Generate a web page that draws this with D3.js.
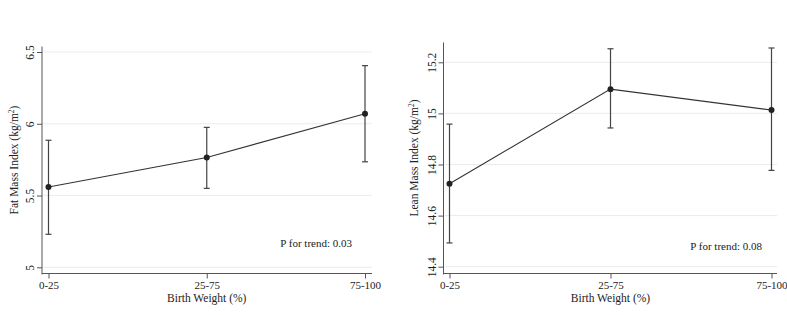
<!DOCTYPE html>
<html>
<head>
<meta charset="utf-8">
<script src="https://cdn.jsdelivr.net/npm/d3@7"></script>
<style>
  body { margin: 0; background: #fff; }
  svg text { font-family: "Liberation Serif", "Times New Roman", serif; fill: #222; }
</style>
</head>
<body>
<div id="chart"></div>
<script>
// birth weight groups
const categories = ['0-25', '25-75', '75-100'];

// fat mass index (kg/m2): mean and 95% CI
const fatMean = [5.56, 5.765, 6.07];
const fatLo = [5.23, 5.55, 5.735];
const fatHi = [5.885, 5.975, 6.405];
const fatTicks = [5, 5.5, 6, 6.5];

// lean mass index (kg/m2)
const leanMean = [14.725, 15.095, 15.013];
const leanLo = [14.493, 14.943, 14.777];
const leanHi = [14.958, 15.253, 15.256];
const leanTicks = [14.4, 14.6, 14.8, 15, 15.2];

const pTrend = ['P for trend: 0.03', 'P for trend: 0.08'];

const W = 787, H = 315;
const svg = d3.select('#chart').append('svg')
  .attr('width', W).attr('height', H);

const panel = (opt) => {
  const g = svg.append('g');

  let x = d3.scalePoint()
    .domain(categories)
    .range([opt.x0, opt.x1]);

  let y = d3.scaleLinear()
    .domain(opt.domain)
    .range(opt.yRange);

  // gridlines
  g.append('g')
    .selectAll('line')
    .data(opt.ticks)
    .join('line')
    .attr('x1', opt.axisX + 1)
    .attr('x2', opt.axisRight)
    .attr('y1', d => y(d))
    .attr('y2', d => y(d))
    .attr('stroke', '#ebebeb')
    .attr('stroke-width', 1);

  // y axis
  let yAxis = g.append('g')
    .attr('transform', `translate(${opt.axisX},0)`)
    .call(d3.axisLeft(y).tickValues(opt.ticks).tickSize(5).tickSizeOuter(0).tickFormat(d => d3.format('')(d)));
  yAxis.select('.domain').remove();
  yAxis.append('line')
    .attr('y1', opt.axisTop).attr('y2', opt.axisY + 1)
    .attr('stroke', '#555');
  yAxis.selectAll('.tick line').attr('stroke', '#555');
  yAxis.selectAll('.tick text')
    .attr('transform', 'rotate(-90)')
    .attr('x', 0).attr('y', -8)
    .attr('dy', 0)
    .attr('text-anchor', 'middle')
    .style('font-size', '11.5px')
    .style('font-family', '"Liberation Serif", serif')
    .attr('fill', '#222');

  // x axis
  let xAxis = g.append('g')
    .attr('transform', `translate(0,${opt.axisY})`)
    .call(d3.axisBottom(x).tickSize(5).tickSizeOuter(0));
  xAxis.select('.domain').remove();
  xAxis.append('line')
    .attr('x1', opt.axisX).attr('x2', opt.axisRight)
    .attr('stroke', '#555');
  xAxis.selectAll('.tick line').attr('stroke', '#555');
  xAxis.selectAll('.tick text')
    .attr('y', 8)
    .style('font-size', '11px')
    .style('font-family', '"Liberation Serif", serif')
    .attr('fill', '#222');

  // axis titles
  g.append('text')
    .attr('x', (opt.x0 + opt.x1) / 2)
    .attr('y', opt.axisY + 28)
    .attr('text-anchor', 'middle')
    .style('font-size', '11.5px')
    .text('Birth Weight (%)');

  let yt = g.append('text')
    .attr('transform', `translate(${opt.titleX},${(opt.axisTop + opt.axisY) / 2}) rotate(-90)`)
    .attr('text-anchor', 'middle')
    .style('font-size', '11.5px');
  yt.append('tspan').text(opt.title + ' (kg/m');
  yt.append('tspan').attr('dy', -4).style('font-size', '7.5px').text('2');
  yt.append('tspan').attr('dy', 4).text(')');

  // error bars
  let idx = categories.map((c, i) => i);
  g.append('g')
    .selectAll('g')
    .data(idx)
    .join('g')
    .each(function (i) {
      let s = d3.select(this);
      let cx = x(categories[i]);
      s.append('line')
        .attr('x1', cx).attr('x2', cx)
        .attr('y1', y(opt.lo[i])).attr('y2', y(opt.hi[i]))
        .attr('stroke', '#444').attr('stroke-width', 1.2);
      [opt.lo[i], opt.hi[i]].forEach(v => {
        s.append('line')
          .attr('x1', cx - 3).attr('x2', cx + 3)
          .attr('y1', y(v)).attr('y2', y(v))
          .attr('stroke', '#444').attr('stroke-width', 1.2);
      });
    });

  // mean line
  let line = d3.line()
    .x((d, i) => x(categories[i]))
    .y(d => y(d));

  g.append('path')
    .datum(opt.mean)
    .attr('fill', 'none')
    .attr('stroke', '#333')
    .attr('stroke-width', 1.1)
    .attr('d', line);

  g.append('g')
    .selectAll('circle')
    .data(opt.mean)
    .join('circle')
    .attr('cx', (d, i) => x(categories[i]))
    .attr('cy', d => y(d))
    .attr('r', 3)
    .attr('fill', '#222');

  g.append('text')
    .attr('x', opt.pX)
    .attr('y', opt.pY)
    .attr('text-anchor', 'end')
    .style('font-size', '11px')
    .text(opt.p);
};

panel({
  x0: 48.5, x1: 365, axisX: 42, axisRight: 372, axisY: 273.5, axisTop: 46.5,
  domain: [5, 6.5], yRange: [267.3, 52], ticks: fatTicks,
  mean: fatMean, lo: fatLo, hi: fatHi,
  title: 'Fat Mass Index', titleX: 18,
  p: pTrend[0], pX: 352, pY: 247
});

panel({
  x0: 449.5, x1: 771.5, axisX: 443.5, axisRight: 777, axisY: 273.5, axisTop: 42.5,
  domain: [14.4, 15.2], yRange: [266.7, 62.3], ticks: leanTicks,
  mean: leanMean, lo: leanLo, hi: leanHi,
  title: 'Lean Mass Index', titleX: 418,
  p: pTrend[1], pX: 762, pY: 250
});
</script>
</body>
</html>
